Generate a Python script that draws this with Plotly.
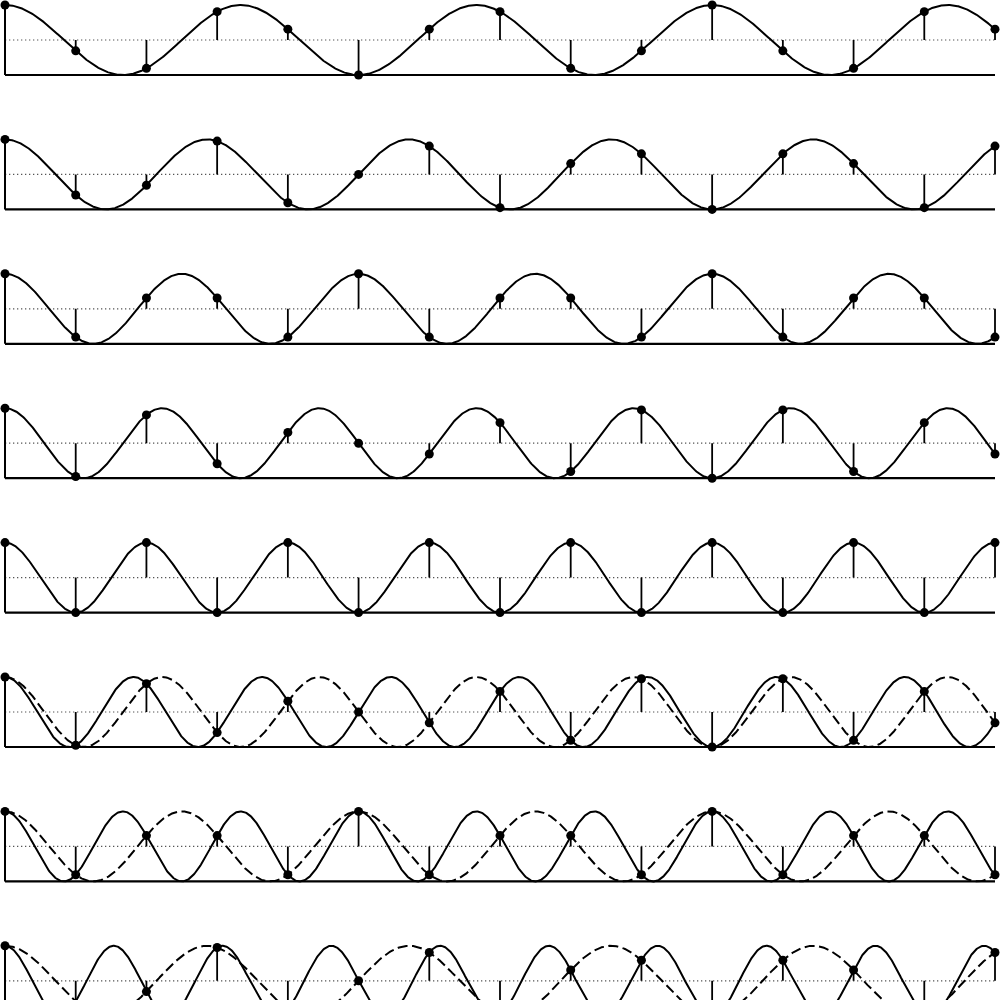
import numpy as np
import plotly.graph_objects as go

# ---- data ----
sample_times = list(range(15))                     # n = 0 .. 14
solid_freqs = [0.30, 0.35, 0.40, 0.45, 0.50, 0.55, 0.60, 0.65]   # cycles per sample
dashed_freqs = [None, None, None, None, None, 0.45, 0.40, 0.35]  # alias frequency
baseline_value = 0.0
mid_value = 0.5
top_value = 1.0

# ---- geometry ----
W, H = 1000, 1000
px_per_t = 70.714
px_per_v = 70.0
row_step = 134.4
row_top0 = 5.0          # pixel of value 1 in row 0
t_min, t_max = sample_times[0], sample_times[-1]
x_range = [t_min - 5 / px_per_t, t_max + 5 / px_per_t]

fig = go.Figure()
n_rows = len(solid_freqs)
t_fine = np.linspace(t_min, t_max, 1400)
n_arr = np.array(sample_times, dtype=float)

def sig(f, t):
    return (1 + np.cos(2 * np.pi * f * t)) / 2

for k in range(n_rows):
    xa = "x" if k == 0 else f"x{k+1}"
    ya = "y" if k == 0 else f"y{k+1}"
    top_px = row_step * k
    bot_px = min(top_px + 95, H)
    v_top = 1 - (top_px - (row_top0 + row_step * k)) / px_per_v
    v_bot = 1 - (bot_px - (row_top0 + row_step * k)) / px_per_v
    dom = [1 - bot_px / H, 1 - top_px / H]
    fig.layout[f"xaxis{'' if k == 0 else k+1}"] = dict(
        domain=[0, 1], range=x_range, visible=False, anchor=ya, fixedrange=True)
    fig.layout[f"yaxis{'' if k == 0 else k+1}"] = dict(
        domain=dom, range=[v_bot, v_top], visible=False, anchor=xa, fixedrange=True)

    # midline (dotted)
    fig.add_trace(go.Scatter(x=[t_min, t_max], y=[mid_value, mid_value], mode="lines",
                             line=dict(color="#555555", width=1.2, dash="1.3px,2.7px"),
                             xaxis=xa, yaxis=ya, hoverinfo="skip"))
    # dashed alias curve
    if dashed_freqs[k] is not None:
        fig.add_trace(go.Scatter(x=t_fine, y=sig(dashed_freqs[k], t_fine), mode="lines",
                                 line=dict(color="black", width=2, dash="10px,4.5px"),
                                 xaxis=xa, yaxis=ya, hoverinfo="skip"))
    # solid curve
    fig.add_trace(go.Scatter(x=t_fine, y=sig(solid_freqs[k], t_fine), mode="lines",
                             line=dict(color="black", width=2),
                             xaxis=xa, yaxis=ya, hoverinfo="skip"))
    # axes spines: bottom and left
    fig.add_trace(go.Scatter(x=[t_min, t_max], y=[baseline_value, baseline_value], mode="lines",
                             line=dict(color="black", width=2.2),
                             xaxis=xa, yaxis=ya, hoverinfo="skip"))
    fig.add_trace(go.Scatter(x=[t_min, t_min], y=[baseline_value, top_value], mode="lines",
                             line=dict(color="black", width=2),
                             xaxis=xa, yaxis=ya, hoverinfo="skip"))
    # stems from midline
    samples = sig(solid_freqs[k], n_arr)
    sx, sy = [], []
    for n, v in zip(sample_times, samples):
        sx += [n, n, None]
        sy += [mid_value, v, None]
    fig.add_trace(go.Scatter(x=sx, y=sy, mode="lines",
                             line=dict(color="black", width=1.8),
                             xaxis=xa, yaxis=ya, hoverinfo="skip"))
    # markers
    fig.add_trace(go.Scatter(x=sample_times, y=samples, mode="markers",
                             marker=dict(color="black", size=9, line=dict(width=0)),
                             cliponaxis=False, xaxis=xa, yaxis=ya, hoverinfo="skip"))

fig.update_layout(width=W, height=H, margin=dict(l=0, r=0, t=0, b=0),
                  paper_bgcolor="white", plot_bgcolor="white", showlegend=False)
fig.write_html("out.html")
